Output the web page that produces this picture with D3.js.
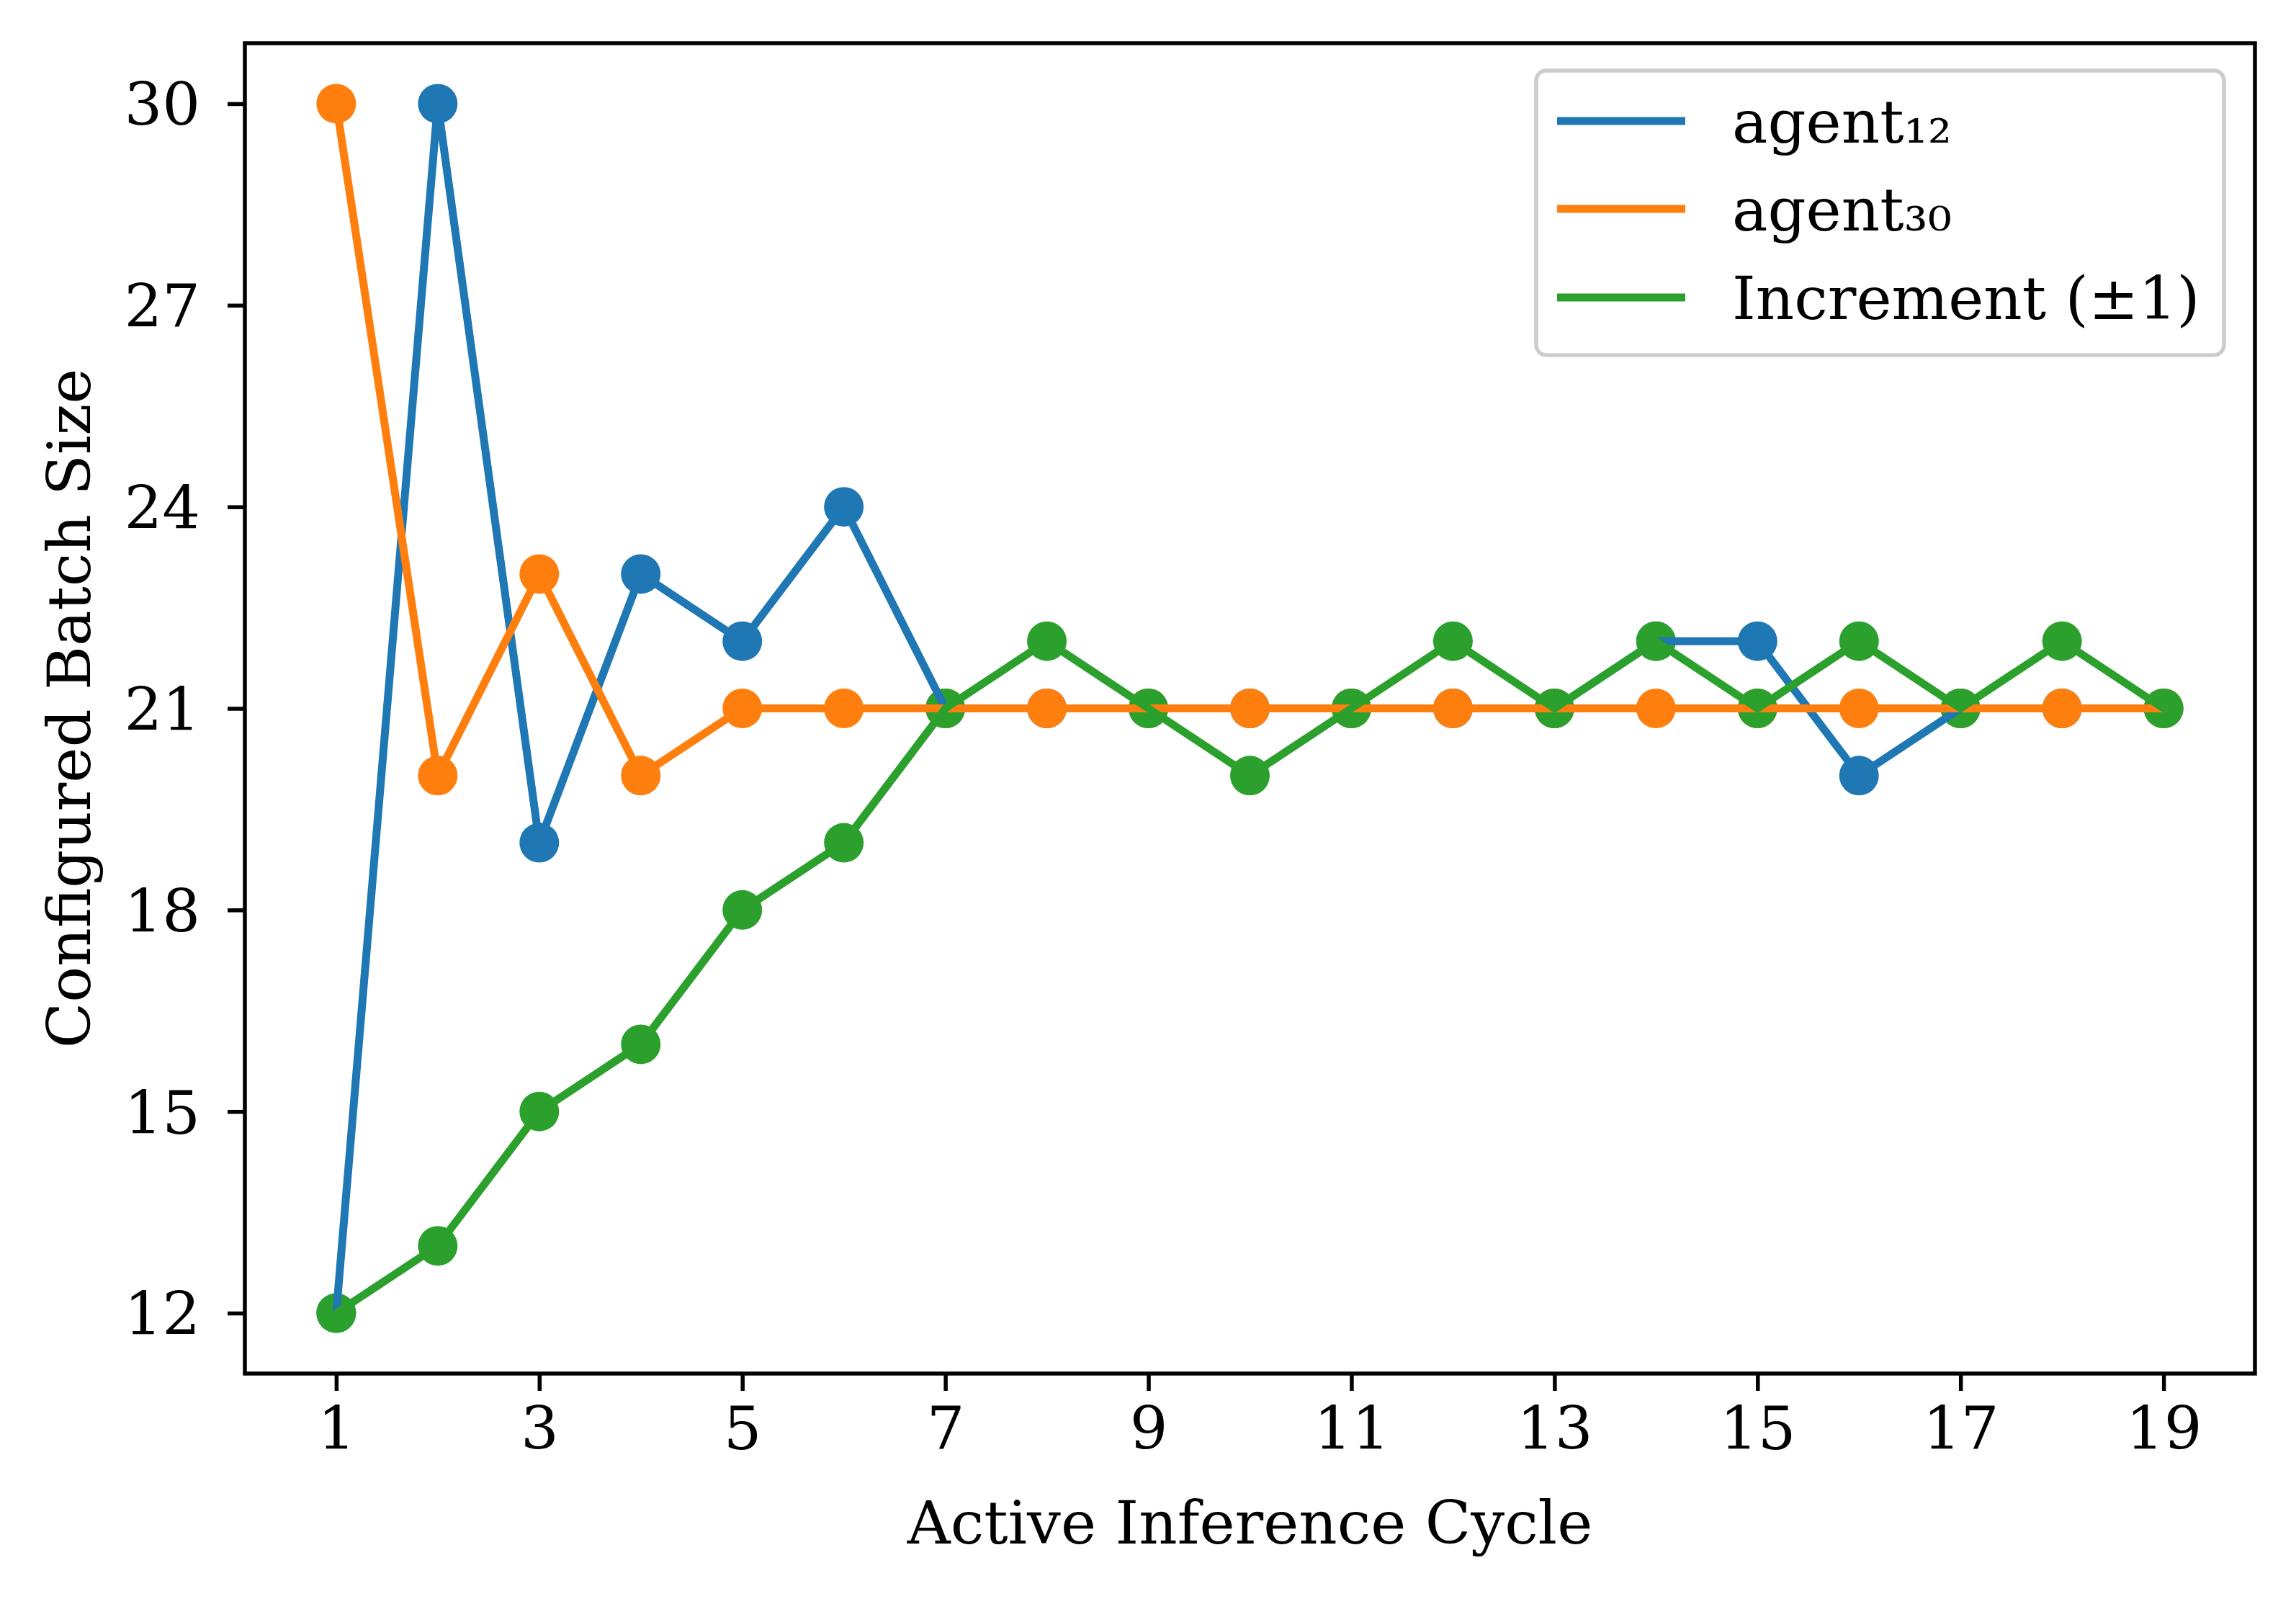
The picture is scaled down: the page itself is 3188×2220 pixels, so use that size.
<!DOCTYPE html>
<html>
<head>
<meta charset="utf-8">
<script src="https://cdn.jsdelivr.net/npm/d3@7"></script>
<style>
  body { margin: 0; background: #fff; }
  text { font-family: "DejaVu Serif", serif; fill: #000; }
</style>
</head>
<body>
<svg id="chart" width="3188" height="2220"></svg>
<script>
const cycles = [1, 2, 3, 4, 5, 6, 7, 8, 9, 10, 11, 12, 13, 14, 15, 16, 17, 18, 19];
const agent12 = [12, 30, 19, 23, 22, 24, 21, 21, 21, 21, 21, 21, 21, 22, 22, 20, 21, 21, 21];
const agent30 = [30, 20, 23, 20, 21, 21, 21, 21, 21, 21, 21, 21, 21, 21, 21, 21, 21, 21, 21];
const increment = [12, 13, 15, 16, 18, 19, 21, 22, 21, 20, 21, 22, 21, 22, 21, 22, 21, 22, 21];
const xTicks = [1, 3, 5, 7, 9, 11, 13, 15, 17, 19];
const yTicks = [12, 15, 18, 21, 24, 27, 30];
const seriesNames = ['agent\u2081\u2082', 'agent\u2083\u2080', 'Increment (\u00b11)'];
const colors = ['#1f77b4', '#ff7f0e', '#2ca02c'];

function translate(x, y) {
    return `translate(${x}, ${y})`;
}

const margin = { left: 340, right: 3131, top: 60, bottom: 1907 };
const fontSize = 83;

const series = [agent12, agent30, increment].map((vals, i) => ({
    name: seriesNames[i],
    color: colors[i],
    points: vals.map((v, j) => ({ x: cycles[j], y: v }))
}));

const svg = d3.select('#chart');

const xScale = d3.scaleLinear().domain([0.1, 19.9]).range([margin.left, margin.right]);
const yScale = d3.scaleLinear().domain([11.1, 30.9]).range([margin.bottom, margin.top]);

// markers first, lines on top
const plot = svg.append('g');
series.forEach(s => {
    plot.append('g').selectAll('circle')
        .data(s.points)
        .enter()
        .append('circle')
        .attr('cx', d => xScale(d.x))
        .attr('cy', d => yScale(d.y))
        .attr('r', 27.5)
        .attr('fill', s.color);
});
const line = d3.line().x(d => xScale(d.x)).y(d => yScale(d.y));
series.forEach(s => {
    plot.append('path')
        .datum(s.points)
        .attr('d', line)
        .attr('fill', 'none')
        .attr('stroke', s.color)
        .attr('stroke-width', 11)
        .attr('stroke-linejoin', 'round')
        .attr('stroke-linecap', 'round');
});

// axes
const xAxis = svg.append('g')
    .attr('transform', translate(0, margin.bottom))
    .call(d3.axisBottom(xScale).tickValues(xTicks).tickSize(24).tickPadding(22).tickFormat(d3.format('d')));
const yAxis = svg.append('g')
    .attr('transform', translate(margin.left, 0))
    .call(d3.axisLeft(yScale).tickValues(yTicks).tickSize(24).tickPadding(38).tickFormat(d3.format('d')));
[xAxis, yAxis].forEach(a => {
    a.select('.domain').remove();
    a.selectAll('.tick line').attr('stroke', '#000').attr('stroke-width', 5.5);
    a.selectAll('.tick text').attr('font-size', fontSize).attr('font-family', '"DejaVu Serif", serif');
});
yAxis.selectAll('.tick text').attr('dy', '0.36em');

svg.append('rect')
    .attr('x', margin.left).attr('y', margin.top)
    .attr('width', margin.right - margin.left).attr('height', margin.bottom - margin.top)
    .attr('fill', 'none').attr('stroke', '#000').attr('stroke-width', 5.5);

// axis labels
svg.append('text')
    .attr('x', (margin.left + margin.right) / 2).attr('y', 2143)
    .attr('text-anchor', 'middle')
    .attr('font-size', fontSize)
    .text('Active Inference Cycle');
svg.append('text')
    .attr('transform', translate(125, (margin.top + margin.bottom) / 2) + ' rotate(-90)')
    .attr('text-anchor', 'middle')
    .attr('font-size', fontSize)
    .text('Configured Batch Size');

// legend
const legend = svg.append('g');
legend.append('rect')
    .attr('x', 2133).attr('y', 98)
    .attr('width', 955).attr('height', 395)
    .attr('rx', 14)
    .attr('fill', '#fff').attr('fill-opacity', 0.8)
    .attr('stroke', '#ccc').attr('stroke-width', 5.5);
const rowY = [168, 290, 413];
series.forEach((s, i) => {
    legend.append('line')
        .attr('x1', 2162).attr('x2', 2340)
        .attr('y1', rowY[i]).attr('y2', rowY[i])
        .attr('stroke', s.color).attr('stroke-width', 11);
    legend.append('text')
        .attr('x', 2405).attr('y', rowY[i])
        .attr('dy', '0.36em')
        .attr('font-size', fontSize)
        .text(s.name);
});
</script>
</body>
</html>
